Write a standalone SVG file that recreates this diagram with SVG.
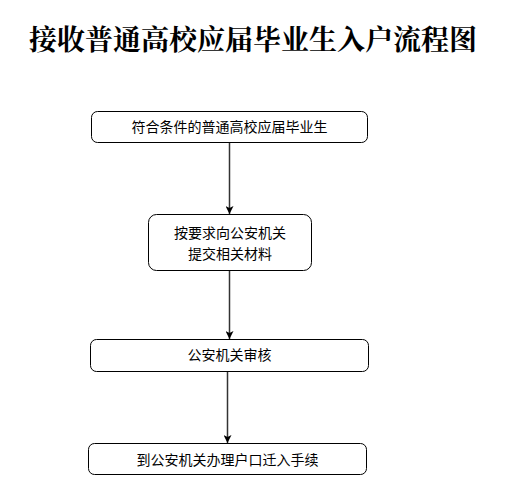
<svg xmlns="http://www.w3.org/2000/svg" width="510" height="500" viewBox="0 0 510 500">
<style>
.title{font-family:"Liberation Serif","Noto Serif CJK SC","Noto Sans CJK SC",serif;font-weight:bold;font-size:28px;fill:#000}
.box{fill:#fff;stroke:#000;stroke-width:1}
.lbl{font-family:"Liberation Sans","Noto Sans CJK SC",sans-serif;font-size:14px;fill:#000;text-anchor:middle;dominant-baseline:central}
.conn{stroke:#333;stroke-width:1.5;fill:none}
</style>
<defs>
<marker id="arr" viewBox="0 0 8 8" refX="8" refY="4" markerWidth="8" markerHeight="8" markerUnits="userSpaceOnUse" orient="auto">
<path d="M0,0 L8,4 L0,8 L2,4 z" fill="#000"/>
</marker>
</defs>
<rect width="510" height="500" fill="#fff"/>
<text class="title" x="253" y="50" text-anchor="middle">接收普通高校应届毕业生入户流程图</text>
<g id="connectors">
<line class="conn" x1="229.5" y1="143" x2="229.5" y2="214" marker-end="url(#arr)"/>
<line class="conn" x1="229.5" y1="271" x2="229.5" y2="339" marker-end="url(#arr)"/>
<line class="conn" x1="227.5" y1="372" x2="227.5" y2="443" marker-end="url(#arr)"/>
</g>
<g id="n1">
<rect class="box" x="91.5" y="111.5" width="276" height="31" rx="6"/>
<text class="lbl" x="229.5" y="127">符合条件的普通高校应届毕业生</text>
</g>
<g id="n2">
<rect class="box" x="148.5" y="214.5" width="163" height="56" rx="8"/>
<text class="lbl" x="230" y="233">按要求向公安机关</text>
<text class="lbl" x="230" y="254">提交相关材料</text>
</g>
<g id="n3">
<rect class="box" x="90.5" y="339.5" width="278" height="32" rx="6"/>
<text class="lbl" x="229.5" y="355">公安机关审核</text>
</g>
<g id="n4">
<rect class="box" x="88.5" y="443.5" width="278" height="31" rx="6"/>
<text class="lbl" x="227.5" y="460">到公安机关办理户口迁入手续</text>
</g>
</svg>
